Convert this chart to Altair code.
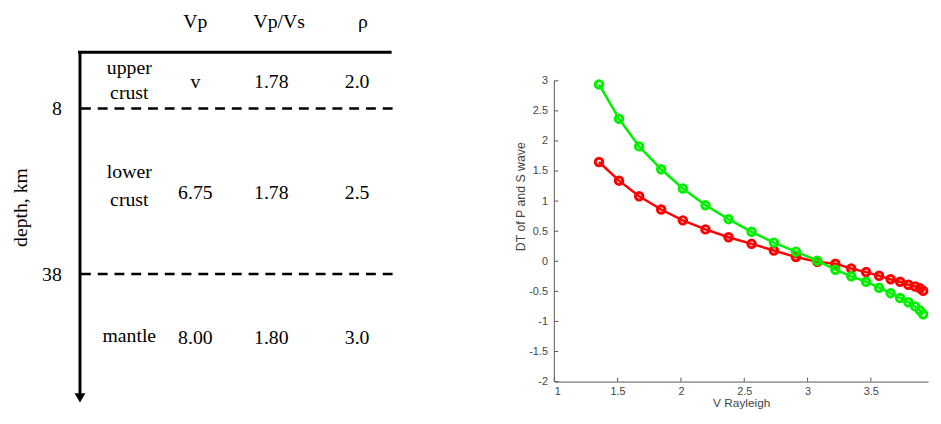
import altair as alt
import pandas as pd

# ---------------- Right panel data ----------------
v_rayleigh = [1.353, 1.511, 1.670, 1.844, 2.015, 2.194, 2.376, 2.558, 2.734, 2.908, 3.077,
              3.220, 3.345, 3.462, 3.565, 3.656, 3.731, 3.796, 3.850, 3.889, 3.913]
dt_green = [2.94, 2.37, 1.91, 1.53, 1.21, 0.93, 0.70, 0.49, 0.31, 0.16, 0.01,
            -0.14, -0.25, -0.34, -0.44, -0.53, -0.61, -0.68, -0.75, -0.82, -0.88]
dt_red = [1.65, 1.34, 1.08, 0.86, 0.68, 0.53, 0.40, 0.29, 0.18, 0.07, -0.01,
          -0.04, -0.12, -0.18, -0.24, -0.30, -0.34, -0.39, -0.42, -0.45, -0.49]
x_ticks = [1, 1.5, 2, 2.5, 3, 3.5]
y_ticks = [-2, -1.5, -1, -0.5, 0, 0.5, 1, 1.5, 2, 2.5, 3]

# ---------------- Left panel (layer model) ----------------
headers = ["Vp", "Vp/Vs", "\u03c1"]
header_x = [117, 202, 287]
header_depth = -4.3
name_lines = ["upper", "crust", "lower", "crust", "mantle"]
name_depths = [2.25, 5.85, 19.55, 24.6, 49.6]
name_x = 50
vp = ["v", "6.75", "8.00"]
vpvs = ["1.78", "1.78", "1.80"]
rho = ["2.0", "2.5", "3.0"]
value_depths = [4.2, 23.3, 49.9]
value_x = [117, 194, 281]
boundaries = [8, 38]

SERIF = "Liberation Serif"
SANS = "Liberation Sans"

# ---- left chart ----
LW, LH = 317, 398
xs_left = alt.Scale(domain=[0, LW], nice=False, zero=False)
ys_left = alt.Scale(domain=[-6, 0, 8, 38, 62], range=[0, 42, 99, 267, LH], nice=False, zero=False)
left_axis = alt.Axis(values=boundaries, domain=False, ticks=False, grid=False,
                     labelFont=SERIF, labelFontSize=20, labelColor="black", labelPadding=19,
                     title="depth, km", titleFont=SERIF, titleFontSize=20, titleFontWeight="normal",
                     titleColor="black", titlePadding=11)

def lx(field):
    return alt.X(field, type="quantitative", scale=xs_left, axis=None)

def ly(field):
    return alt.Y(field, type="quantitative", scale=ys_left, axis=left_axis)

texts = []
for h, x in zip(headers, header_x):
    texts.append({"x": x, "d": header_depth, "t": h})
for t, d in zip(name_lines, name_depths):
    texts.append({"x": name_x, "d": d, "t": t})
for i, d in enumerate(value_depths):
    for col, xv in zip([vp, vpvs, rho], value_x):
        texts.append({"x": xv, "d": d, "t": col[i]})
text_df = pd.DataFrame(texts)

text_layer = alt.Chart(text_df).mark_text(font=SERIF, fontSize=20, color="black",
                                          align="center", baseline="middle").encode(
    x=lx("x"), y=ly("d"), text="t:N")

top_df = pd.DataFrame({"x": [-2], "x2": [LW - 1], "d": [0]})
top_line = alt.Chart(top_df).mark_rule(color="black", strokeWidth=3).encode(
    x=lx("x"), x2="x2:Q", y=ly("d"))

dash_df = pd.DataFrame({"x": [1] * len(boundaries), "x2": [LW] * len(boundaries), "d": boundaries})
dash_lines = alt.Chart(dash_df).mark_rule(color="black", strokeWidth=2.5, strokeDash=[10, 7]).encode(
    x=lx("x"), x2="x2:Q", y=ly("d"))

vert_df = pd.DataFrame({"x": [0], "d": [0], "d2": [60.3]})
vert_line = alt.Chart(vert_df).mark_rule(color="black", strokeWidth=3).encode(
    x=lx("x"), y=ly("d"), y2="d2:Q")

arrow_df = pd.DataFrame({"x": [0], "d": [61.0]})
arrow = alt.Chart(arrow_df).mark_point(shape="triangle-down", filled=True, color="black",
                                       size=120, opacity=1).encode(x=lx("x"), y=ly("d"))

left = alt.layer(text_layer, top_line, dash_lines, vert_line, arrow).properties(width=LW, height=LH)

# ---- right chart ----
RW, RH = 379, 376
PX_PER_Y = 61.0
xs_right = alt.Scale(domain=[1, 1 + RW / 128.4], nice=False, zero=False)
ys_right = alt.Scale(domain=[-2, -2 + RH / PX_PER_Y], nice=False, zero=False)
x_axis = alt.Axis(values=x_ticks, labelExpr="'' + datum.value", domain=True, domainColor="#555",
                  ticks=False, grid=False, labelFont=SANS, labelFontSize=11, labelColor="#444",
                  labelPadding=4, title="V Rayleigh", titleFont=SANS, titleFontSize=12,
                  titleFontWeight="normal", titleColor="#444", titlePadding=1)
y_axis = alt.Axis(values=y_ticks, labelExpr="'' + datum.value", domain=False, ticks=False,
                  grid=False, labelFont=SANS, labelFontSize=11, labelColor="#444", labelPadding=7,
                  title="DT of P and S wave", titleFont=SANS, titleFontSize=12.5,
                  titleFontWeight="normal", titleColor="#444", titlePadding=1)

def rx(field):
    return alt.X(field, type="quantitative", scale=xs_right, axis=x_axis)

def ry(field):
    return alt.Y(field, type="quantitative", scale=ys_right, axis=y_axis)

red_df = pd.DataFrame({"v": v_rayleigh, "dt": dt_red})
green_df = pd.DataFrame({"v": v_rayleigh, "dt": dt_green})

def series(df, color):
    line = alt.Chart(df).mark_line(color=color, strokeWidth=2.5).encode(x=rx("v"), y=ry("dt"))
    pts = alt.Chart(df).mark_point(shape="circle", filled=False, color=color, size=58,
                                   strokeWidth=3, opacity=1).encode(x=rx("v"), y=ry("dt"))
    return [line, pts]

yline_df = pd.DataFrame({"v": [1], "dt": [y_ticks[0]], "dt2": [y_ticks[-1]]})
y_line = alt.Chart(yline_df).mark_rule(color="#555", strokeWidth=1).encode(
    x=rx("v"), y=ry("dt"), y2="dt2:Q")

xt_df = pd.DataFrame({"v": x_ticks})
x_tick_marks = alt.Chart(xt_df).mark_rule(color="#555", strokeWidth=1).encode(
    x=rx("v"), y=alt.value(RH), y2=alt.value(RH - 4))
yt_df = pd.DataFrame({"dt": y_ticks})
y_tick_marks = alt.Chart(yt_df).mark_rule(color="#555", strokeWidth=1).encode(
    y=ry("dt"), x=alt.value(0), x2=alt.value(4))

right = alt.layer(y_line, x_tick_marks, y_tick_marks,
                  *series(red_df, "#ff0000"), *series(green_df, "#00f000")).properties(
    width=RW, height=RH)

chart = alt.hconcat(left, right, spacing=122).properties(
    padding={"left": 3, "top": 0, "right": 0, "bottom": 0},
    background="white").configure_view(stroke=None)

chart.save("out.html", embed_options={"renderer": "svg", "actions": False})
